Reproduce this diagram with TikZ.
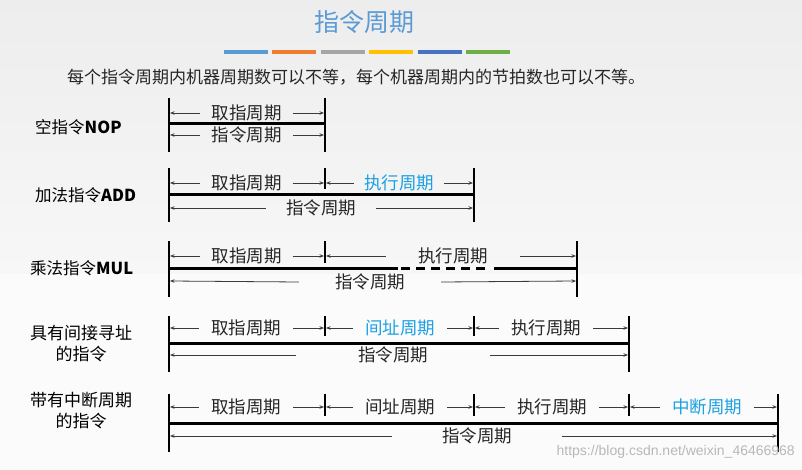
\documentclass[tikz,border=0pt]{standalone}
\usepackage{fontspec}
\setmainfont{Noto Sans CJK SC}
\newfontfamily\wmfont{Liberation Sans}
\usetikzlibrary{arrows.meta}
\definecolor{titleblue}{HTML}{5B9BD5}
\definecolor{hlblue}{HTML}{1BA1E2}
\definecolor{barA}{HTML}{5B9BD5}
\definecolor{barB}{HTML}{ED7D31}
\definecolor{barC}{HTML}{A5A5A5}
\definecolor{barD}{HTML}{FFC000}
\definecolor{barE}{HTML}{4472C4}
\definecolor{barF}{HTML}{70AD47}
\definecolor{bgtopA}{HTML}{EDEDED}
\definecolor{bgtopB}{HTML}{F7F7F7}
\definecolor{bgbot}{HTML}{FBFBFC}
\definecolor{dimgray}{HTML}{3A3A3A}
\tikzset{
  tickline/.style={line width=2pt, black},
  mainline/.style={line width=3pt, black},
  dimline/.style={line width=0.8pt, dimgray, -{Stealth[length=4.5pt,width=3.5pt]}},
  lbl/.style={font=\fontsize{17.5pt}{20pt}\selectfont, inner ysep=0pt, text=black!85},
  rowlbl/.style={font=\fontsize{16.5pt}{20pt}\selectfont, anchor=west, inner sep=0pt},
  rowlbl2/.style={font=\fontsize{17pt}{21pt}\selectfont, align=center, inner sep=0pt},
  colbar/.style={line width=4pt},
}
\begin{document}
\begin{tikzpicture}[x=1pt,y=-1pt]
\useasboundingbox (0,0) rectangle (802,470);
\shade[top color=bgtopA, bottom color=bgtopB] (0,0) rectangle (802,274);
\fill[bgbot] (0,274) rectangle (802,470);

% title
\node[font=\fontsize{25pt}{28pt}\selectfont, text=titleblue] (title) at (364,22) {指令周期};
\draw[colbar, barA] (224,52) -- (268,52);
\draw[colbar, barB] (272,52) -- (316,52);
\draw[colbar, barC] (321,52) -- (365,52);
\draw[colbar, barD] (369,52) -- (413,52);
\draw[colbar, barE] (418,52) -- (462,52);
\draw[colbar, barF] (466,52) -- (510,52);
\node[font=\fontsize{17pt}{20pt}\selectfont, anchor=west, inner sep=0pt, text=black!85] (sub) at (67,77) {每个指令周期内机器周期数可以不等，每个机器周期内的节拍数也可以不等。};

% ---------- row 1: NOP
\node[rowlbl] (l1) at (35,127) {空指令\textbf{NOP}};
\draw[tickline] (169,98) -- (169,152);
\draw[tickline] (325,98) -- (325,152);
\draw[mainline] (169,124) -- (325,124);
\coordinate (r1u0) at (170,113); \coordinate (r1u1) at (324,113);
\coordinate (r1d0) at (170,135); \coordinate (r1d1) at (324,135);
\node[lbl, inner xsep=11pt] (r1t1) at (246.5,113) {取指周期};
\draw[dimline] (r1t1.west) -- (r1u0);
\draw[dimline] (r1t1.east) -- (r1u1);
\node[lbl, inner xsep=11pt] (r1t2) at (246.5,135) {指令周期};
\draw[dimline] (r1t2.west) -- (r1d0);
\draw[dimline] (r1t2.east) -- (r1d1);

% ---------- row 2: ADD
\node[rowlbl] (l2) at (35,195) {加法指令\textbf{ADD}};
\draw[tickline] (169,168) -- (169,222);
\draw[tickline] (325,168) -- (325,189);
\draw[tickline] (474,168) -- (474,222);
\draw[mainline] (169,195) -- (474,195);
\coordinate (r2u0) at (170,183); \coordinate (r2u1a) at (324,183);
\coordinate (r2u1b) at (326,183); \coordinate (r2u2) at (473,183);
\coordinate (r2d0) at (170,208); \coordinate (r2d2) at (473,208);
\node[lbl, inner xsep=11pt] (r2t1) at (246.5,183) {取指周期};
\draw[dimline] (r2t1.west) -- (r2u0);
\draw[dimline] (r2t1.east) -- (r2u1a);
\node[lbl, inner xsep=10pt, text=hlblue] (r2t2) at (399,183) {执行周期};
\draw[dimline] (r2t2.west) -- (r2u1b);
\draw[dimline] (r2t2.east) -- (r2u2);
\node[lbl, inner xsep=20pt] (r2t3) at (321,208) {指令周期};
\draw[dimline] (r2t3.west) -- (r2d0);
\draw[dimline] (r2t3.east) -- (r2d2);

% ---------- row 3: MUL
\node[rowlbl] (l3) at (30,268) {乘法指令\textbf{MUL}};
\draw[tickline] (169,241) -- (169,297);
\draw[tickline] (325,241) -- (325,263);
\draw[tickline] (577,241) -- (577,297);
\draw[mainline] (169,268) -- (398,268);
\draw[mainline, dash pattern=on 9pt off 6pt] (401,268) -- (490,268);
\draw[mainline] (494,268) -- (577,268);
\coordinate (r3u0) at (170,256); \coordinate (r3u1a) at (324,256);
\coordinate (r3u1b) at (326,256); \coordinate (r3u2) at (576,256);
\coordinate (r3d0) at (170,281); \coordinate (r3d2) at (576,281);
\node[lbl, inner xsep=11pt] (r3t1) at (246.5,256) {取指周期};
\draw[dimline] (r3t1.west) -- (r3u0);
\draw[dimline] (r3t1.east) -- (r3u1a);
\node[lbl, inner xsep=32pt] (r3t2) at (453,256) {执行周期};
\draw[dimline] (r3t2.west) -- (r3u1b);
\draw[dimline] (r3t2.east) -- (r3u2);
\node[lbl, inner xsep=36pt] (r3t3) at (370,282) {指令周期};
\draw[dimline] (r3t3.west) -- (r3d0);
\draw[dimline] (r3t3.east) -- (r3d2);

% ---------- row 4: indirect
\node[rowlbl2] (l4) at (81,344) {具有间接寻址\\的指令};
\draw[tickline] (169,316) -- (169,372);
\draw[tickline] (325,316) -- (325,336);
\draw[tickline] (474,316) -- (474,336);
\draw[tickline] (629,316) -- (629,372);
\draw[mainline] (169,343) -- (629,343);
\coordinate (r4u0) at (170,328); \coordinate (r4u1a) at (324,328);
\coordinate (r4u1b) at (326,328); \coordinate (r4u2a) at (473,328);
\coordinate (r4u2b) at (475,328); \coordinate (r4u3) at (628,328);
\coordinate (r4d0) at (170,355); \coordinate (r4d3) at (628,355);
\node[lbl, inner xsep=12pt] (r4t1) at (246,328) {取指周期};
\draw[dimline] (r4t1.west) -- (r4u0);
\draw[dimline] (r4t1.east) -- (r4u1a);
\node[lbl, inner xsep=12pt, text=hlblue] (r4t2) at (400,328) {间址周期};
\draw[dimline] (r4t2.west) -- (r4u1b);
\draw[dimline] (r4t2.east) -- (r4u2a);
\node[lbl, inner xsep=12pt] (r4t3) at (546,328) {执行周期};
\draw[dimline] (r4t3.west) -- (r4u2b);
\draw[dimline] (r4t3.east) -- (r4u3);
\node[lbl, inner xsep=62pt] (r4t4) at (393,355) {指令周期};
\draw[dimline] (r4t4.west) -- (r4d0);
\draw[dimline] (r4t4.east) -- (r4d3);

% ---------- row 5: interrupt
\node[rowlbl2] (l5) at (81,411) {带有中断周期\\的指令};
\draw[tickline] (169,394) -- (169,452);
\draw[tickline] (325,394) -- (325,416);
\draw[tickline] (474,394) -- (474,416);
\draw[tickline] (629,394) -- (629,416);
\draw[tickline] (778,394) -- (778,452);
\draw[mainline] (169,423) -- (778,423);
\coordinate (r5u0) at (170,407); \coordinate (r5u1a) at (324,407);
\coordinate (r5u1b) at (326,407); \coordinate (r5u2a) at (473,407);
\coordinate (r5u2b) at (475,407); \coordinate (r5u3a) at (628,407);
\coordinate (r5u3b) at (630,407); \coordinate (r5u4) at (777,407);
\coordinate (r5d0) at (170,436); \coordinate (r5d4) at (777,436);
\node[lbl, inner xsep=12pt] (r5t1) at (246,407) {取指周期};
\draw[dimline] (r5t1.west) -- (r5u0);
\draw[dimline] (r5t1.east) -- (r5u1a);
\node[lbl, inner xsep=12pt] (r5t2) at (400,407) {间址周期};
\draw[dimline] (r5t2.west) -- (r5u1b);
\draw[dimline] (r5t2.east) -- (r5u2a);
\node[lbl, inner xsep=12pt] (r5t3) at (552,407) {执行周期};
\draw[dimline] (r5t3.west) -- (r5u2b);
\draw[dimline] (r5t3.east) -- (r5u3a);
\node[lbl, inner xsep=12pt, text=hlblue] (r5t4) at (707,407) {中断周期};
\draw[dimline] (r5t4.west) -- (r5u3b);
\draw[dimline] (r5t4.east) -- (r5u4);
\node[lbl, inner xsep=50pt] (r5t5) at (477,436) {指令周期};
\draw[dimline] (r5t5.west) -- (r5d0);
\draw[dimline] (r5t5.east) -- (r5d4);

% watermark
\node[font=\wmfont\fontsize{14pt}{16pt}\selectfont, text=black!28, anchor=east, inner sep=0pt] (wm) at (795,452) {https://blog.csdn.net/weixin\_46466968};
\end{tikzpicture}
\end{document}
